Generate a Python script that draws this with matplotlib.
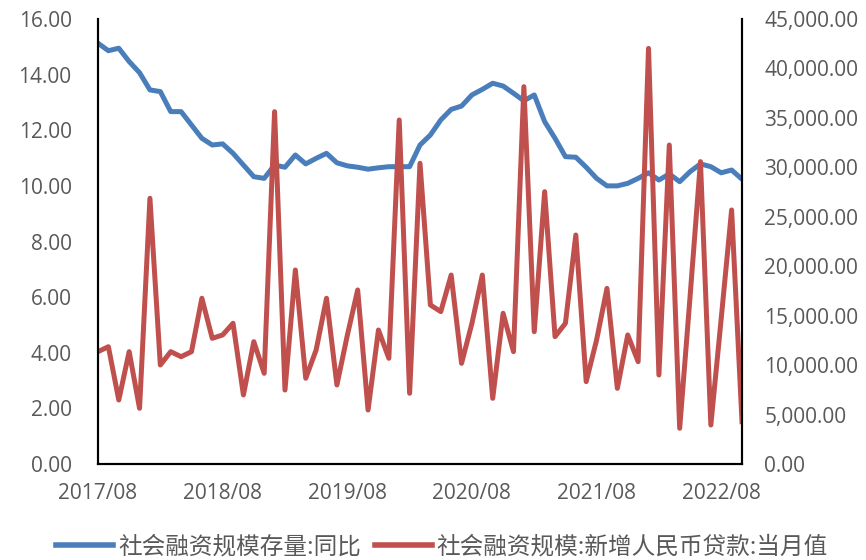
import numpy as np
import pandas as pd
import matplotlib
matplotlib.use('Agg')
import matplotlib.pyplot as plt
from matplotlib.ticker import FuncFormatter, MultipleLocator

plt.rcParams['font.family'] = ['Open Sans', 'Noto Sans CJK SC', 'DejaVu Sans']

#%% data (2017/08 .. 2022/10, monthly)
months = pd.date_range('2017-08-01', periods=63, freq='MS').strftime('%Y/%m').tolist()

# 社会融资规模存量:同比 (%)
stock_yoy = [15.13, 14.86, 14.95, 14.47, 14.07, 13.45, 13.39, 12.67, 12.67, 12.19,
             11.71, 11.47, 11.51, 11.17, 10.75, 10.33, 10.27, 10.75, 10.67, 11.11,
             10.79, 10.99, 11.17, 10.83, 10.72, 10.67, 10.60, 10.65, 10.69, 10.69,
             10.69, 11.47, 11.83, 12.37, 12.75, 12.87, 13.27, 13.47, 13.69, 13.59,
             13.33, 13.06, 13.27, 12.31, 11.71, 11.05, 11.03, 10.67, 10.27, 10.00,
             10.00, 10.09, 10.27, 10.47, 10.21, 10.43, 10.15, 10.51, 10.79, 10.69,
             10.47, 10.57, 10.24]

# 社会融资规模:新增人民币贷款:当月值
new_loans = [11360, 11860, 6470, 11360, 5630, 26870, 10010, 11360, 10850, 11360,
             16760, 12710, 13050, 14230, 6980, 12370, 9170, 35630, 7480, 19620,
             8670, 11530, 16760, 7990, 13000, 17600, 5460, 13550, 10690, 34790,
             7150, 30410, 16080, 15410, 19110, 10180, 14230, 19110, 6640, 15240,
             11360, 38160, 13380, 27540, 12880, 14230, 23160, 8330, 12540, 17760,
             7650, 13050, 10350, 42030, 9000, 32260, 3610, 16920, 30580, 3940,
             14730, 25690, 4280]

tick_labels = ['2017/08', '2018/08', '2019/08', '2020/08', '2021/08', '2022/08']

series_names = ['社会融资规模存量:同比', '社会融资规模:新增人民币贷款:当月值']

#%% plot
blue = '#4A7EBB'
red = '#C0504D'
grey = '#595959'

fig = plt.figure(figsize=(8.66, 5.6), dpi=100)
ax = fig.add_axes([98/866, 1-464/560, (742-98)/866, (464-19)/560])
ax2 = ax.twinx()

x = np.arange(len(months))
l1, = ax.plot(x, stock_yoy, color=blue, lw=3.6, solid_joinstyle='round')
l2, = ax2.plot(x, new_loans, color=red, lw=3.6, solid_joinstyle='round')

ax.set_xlim(0, len(months) - 1)
ax.set_ylim(0, 16)
ax2.set_ylim(0, 45000)
ax.yaxis.set_major_locator(MultipleLocator(2))
ax2.yaxis.set_major_locator(MultipleLocator(5000))
ax.yaxis.set_major_formatter(FuncFormatter(lambda v, p: f'{v:.2f}'))
ax2.yaxis.set_major_formatter(FuncFormatter(lambda v, p: f'{v:,.2f}'))

ax.set_xticks([months.index(t) for t in tick_labels])
ax.set_xticklabels(tick_labels)

for a in (ax, ax2):
    a.spines['top'].set_visible(False)
    for s in ('left', 'right', 'bottom'):
        a.spines[s].set_color('black')
        a.spines[s].set_linewidth(1.5)
ax.tick_params(axis='y', length=0, pad=19, labelsize=15, labelcolor=grey)
ax2.tick_params(axis='y', length=0, pad=16, labelsize=15, labelcolor=grey)
ax.tick_params(axis='x', length=0, pad=14, labelsize=15, labelcolor=grey)

leg = fig.legend([l1, l2], series_names, loc='center', bbox_to_anchor=(442/866, 1-547/560),
                 ncol=2, frameon=False, handlelength=2.4, handletextpad=0.2,
                 columnspacing=0.6, prop={'family': ['Noto Sans CJK SC', 'DejaVu Sans'], 'size': 17})
for t in leg.get_texts():
    t.set_color(grey)
for h in leg.legend_handles:
    h.set_linewidth(4)

fig.savefig('out.png', dpi=100)
